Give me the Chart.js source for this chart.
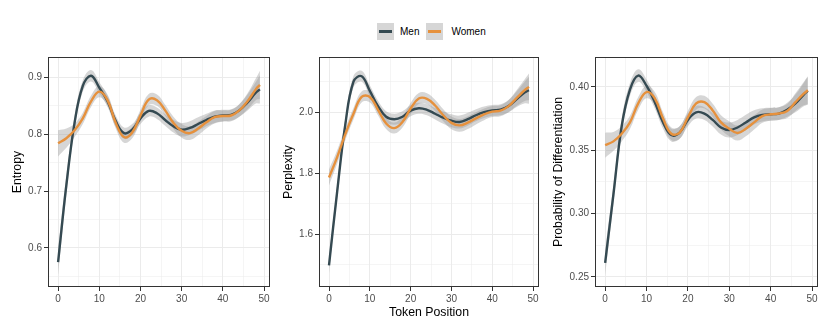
<!DOCTYPE html>
<html>
<head>
<meta charset="utf-8">
<script src="https://cdn.jsdelivr.net/npm/chart.js@4"></script>
<style>
  body { margin: 0; background: #fff; width: 830px; height: 332px; position: relative; overflow: hidden;
         font-family: "Liberation Sans", Arial, sans-serif; }
  .panel { position: absolute; top: 0; height: 332px; }
  #legend { position: absolute; top: 23px; left: 377px; display: flex; align-items: center; font-size: 10px; color: #000; }
  .key { width: 17px; height: 17px; background: #d6d6d6; position: relative; margin-right: 6px; }
  .key span { position: absolute; left: 2px; right: 2px; top: 7.3px; height: 2.4px; }
</style>
</head>
<body>
<div id="legend">
  <div class="key"><span style="background:#354a52"></span></div><div style="margin-right:7px">Men</div>
  <div class="key" style="margin-right:8px"><span style="background:#e6913d"></span></div><div>Women</div>
</div>
<div class="panel" style="left:0;width:275px"><canvas id="c1" width="275" height="332"></canvas></div>
<div class="panel" style="left:275px;width:270px"><canvas id="c2" width="270" height="332"></canvas></div>
<div class="panel" style="left:545px;width:285px"><canvas id="c3" width="285" height="332"></canvas></div>
<script>
// token positions the curves are read at
const tokens = [0, 2, 4, 6, 8, 10, 12, 14, 16, 18, 20, 22, 24, 26, 28, 30, 32, 34, 36, 38, 40, 42, 44, 46, 48, 49];

const entropyMen   = [0.575, 0.71, 0.82, 0.885, 0.903, 0.882, 0.858, 0.823, 0.802, 0.808, 0.828, 0.841, 0.837, 0.825, 0.814, 0.808, 0.811, 0.818, 0.825, 0.831, 0.833, 0.834, 0.842, 0.856, 0.873, 0.879];
const entropyWomen = [0.784, 0.793, 0.807, 0.828, 0.858, 0.875, 0.860, 0.820, 0.795, 0.803, 0.833, 0.861, 0.860, 0.842, 0.820, 0.806, 0.802, 0.810, 0.821, 0.830, 0.832, 0.833, 0.842, 0.858, 0.879, 0.887];
const entropySe    = [0.023, 0.017, 0.012, 0.010, 0.010, 0.010, 0.010, 0.010, 0.010, 0.010, 0.010, 0.010, 0.010, 0.010, 0.011, 0.012, 0.012, 0.012, 0.011, 0.011, 0.010, 0.010, 0.011, 0.014, 0.019, 0.025];

const perplexityMen   = [1.498, 1.74, 1.96, 2.10, 2.118, 2.07, 2.02, 1.985, 1.977, 1.985, 2.005, 2.013, 2.008, 1.995, 1.982, 1.972, 1.968, 1.977, 1.99, 2.0, 2.006, 2.008, 2.02, 2.043, 2.065, 2.072];
const perplexityWomen = [1.786, 1.853, 1.928, 1.995, 2.05, 2.05, 2.008, 1.963, 1.948, 1.968, 2.012, 2.045, 2.044, 2.022, 1.99, 1.965, 1.957, 1.966, 1.98, 1.993, 2.002, 2.005, 2.02, 2.047, 2.073, 2.083];
const perplexitySe    = [0.026, 0.022, 0.020, 0.019, 0.018, 0.018, 0.018, 0.018, 0.018, 0.018, 0.018, 0.018, 0.018, 0.019, 0.020, 0.021, 0.021, 0.021, 0.020, 0.019, 0.018, 0.018, 0.020, 0.026, 0.036, 0.044];

const probMen   = [0.261, 0.315, 0.369, 0.398, 0.409, 0.401, 0.388, 0.372, 0.362, 0.364, 0.374, 0.380, 0.379, 0.374, 0.368, 0.366, 0.368, 0.372, 0.376, 0.378, 0.3785, 0.379, 0.382, 0.387, 0.394, 0.397];
const probWomen = [0.354, 0.357, 0.363, 0.372, 0.387, 0.396, 0.391, 0.375, 0.363, 0.364, 0.376, 0.387, 0.388, 0.3815, 0.372, 0.367, 0.3636, 0.367, 0.372, 0.377, 0.3784, 0.379, 0.381, 0.388, 0.3947, 0.3974];
const probSe    = [0.0099, 0.0075, 0.006, 0.0052, 0.005, 0.005, 0.005, 0.005, 0.005, 0.005, 0.005, 0.005, 0.005, 0.0052, 0.0056, 0.006, 0.006, 0.006, 0.0056, 0.0052, 0.005, 0.005, 0.0055, 0.007, 0.0092, 0.011];

const xMajor = [0, 10, 20, 30, 40, 50];
const xMinor = [5, 15, 25, 35, 45];
const entropyMajor = [0.6, 0.7, 0.8, 0.9];
const entropyMinor = [0.55, 0.65, 0.75, 0.85];
const perplexityMajor = [1.6, 1.8, 2.0];
const perplexityMinor = [1.5, 1.7, 1.9, 2.1];
const probMajor = [0.25, 0.30, 0.35, 0.40];
const probMinor = [0.275, 0.325, 0.375];

const menColor = '#354a52';
const womenColor = '#e6913d';
const ribbonColor = 'rgba(153, 153, 153, 0.4)';
const fontFamily = '"Liberation Sans", Arial, sans-serif';
const tickFont = { family: fontFamily, size: 10 };
const titleFont = { family: fontFamily, size: 12.3 };

const isMajor = (list, v) => list.some(m => Math.abs(m - v) < 1e-9);

const panelBorder = {
    id: 'panelBorder',
    afterDraw(chart) {
        const { ctx, chartArea: a } = chart;
        ctx.save();
        ctx.strokeStyle = '#333333';
        ctx.lineWidth = 1;
        ctx.strokeRect(a.left + 0.5, a.top + 0.5, a.right - a.left - 1, a.bottom - a.top - 1);
        ctx.restore();
    }
};

function pts(values, se, sign) {
    return tokens.map((t, i) => ({ x: t, y: values[i] + sign * (se ? se[i] : 0) }));
}

function gridOpts(major) {
    return {
        color: '#ebebeb',
        lineWidth: c => (c.tick && isMajor(major, c.tick.value)) ? 1 : 0.5,
        tickLength: 4,
        tickWidth: 1,
        tickColor: c => (c.tick && isMajor(major, c.tick.value)) ? '#333333' : 'rgba(0,0,0,0)'
    };
}

function makePanel(id, p) {
    const datasets = [];
    [[p.men, 2], [p.women, 2]].forEach(([vals, ord]) => {
        datasets.push({ data: pts(vals, p.se, -1), borderWidth: 0, pointRadius: 0, fill: false, order: ord, tension: 0.4 });
        datasets.push({ data: pts(vals, p.se, 1), borderWidth: 0, pointRadius: 0, fill: '-1',
            backgroundColor: ribbonColor, order: ord, tension: 0.4 });
    });
    datasets.push({ label: 'Men', data: pts(p.men, null, 0), borderColor: menColor, borderWidth: 2.4,
        pointRadius: 0, fill: false, order: 1, tension: 0.4 });
    datasets.push({ label: 'Women', data: pts(p.women, null, 0), borderColor: womenColor, borderWidth: 2.4,
        pointRadius: 0, fill: false, order: 0, tension: 0.4 });

    new Chart(document.getElementById(id).getContext('2d'), {
        type: 'line',
        data: { datasets: datasets },
        plugins: [panelBorder],
        options: {
            responsive: false,
            animation: false,
            devicePixelRatio: 1,
            layout: { padding: { top: 57, bottom: 0, left: 0, right: p.padRight } },
            plugins: { legend: { display: false }, tooltip: { enabled: false } },
            scales: {
                x: {
                    type: 'linear', min: -2.45, max: 51.45,
                    afterBuildTicks: s => { s.ticks = xMajor.concat(xMinor).sort((a, b) => a - b).map(v => ({ value: v })); },
                    afterFit: s => { s.height = 45; },
                    ticks: { font: tickFont, color: '#4d4d4d', padding: 2, autoSkip: false, maxRotation: 0,
                        callback: v => isMajor(xMajor, v) ? String(v) : '' },
                    grid: gridOpts(xMajor),
                    border: { display: false },
                    title: { display: p.xTitle, text: 'Token Position', font: titleFont, color: '#000',
                        padding: { top: 0, bottom: 11.8 } }
                },
                y: {
                    type: 'linear', min: p.min, max: p.max,
                    afterBuildTicks: s => { s.ticks = p.major.concat(p.minor).sort((a, b) => a - b).map(v => ({ value: v })); },
                    afterFit: s => { s.width = p.axisWidth; },
                    ticks: { font: tickFont, color: '#4d4d4d', padding: 2, autoSkip: false,
                        callback: v => isMajor(p.major, v) ? v.toFixed(p.digits) : '' },
                    grid: gridOpts(p.major),
                    border: { display: false },
                    title: { display: true, text: p.title, font: titleFont, color: '#000',
                        padding: { top: p.titlePad, bottom: 0 } }
                }
            }
        }
    });
}

makePanel('c1', { men: entropyMen, women: entropyWomen, se: entropySe, min: 0.531, max: 0.936,
    major: entropyMajor, minor: entropyMinor, digits: 1, title: 'Entropy',
    axisWidth: 48, titlePad: 10.1, padRight: 5, xTitle: false });
makePanel('c2', { men: perplexityMen, women: perplexityWomen, se: perplexitySe, min: 1.427, max: 2.181,
    major: perplexityMajor, minor: perplexityMinor, digits: 1, title: 'Perplexity',
    axisWidth: 44, titlePad: 5.9, padRight: 6, xTitle: true });
makePanel('c3', { men: probMen, women: probWomen, se: probSe, min: 0.2419, max: 0.4237,
    major: probMajor, minor: probMinor, digits: 2, title: 'Probability of Differentiation',
    axisWidth: 50, titlePad: 5.9, padRight: 12, xTitle: false });
</script>
</body>
</html>
